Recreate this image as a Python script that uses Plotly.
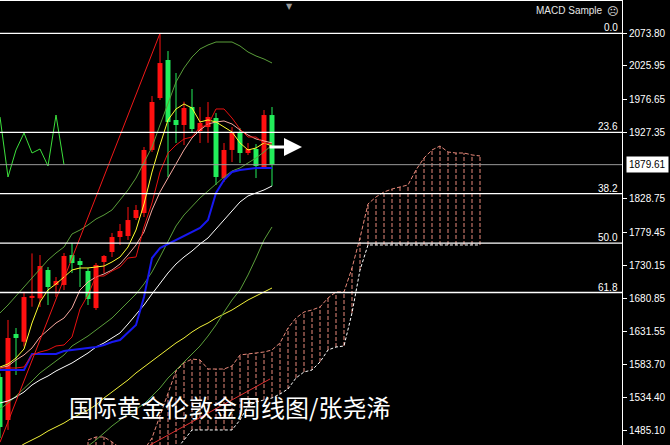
import plotly.graph_objects as go

# ---------------- data ----------------
bar_index = list(range(35))
open_ = [1564.7, 1501.0, 1628.5, 1617.0, 1682.0, 1681.4, 1723.4, 1701.2, 1701.2, 1745.6,
         1736.7, 1721.9, 1667.0, 1735.3, 1750.1, 1772.3, 1773.8, 1800.5, 1807.9, 1901.4,
         1978.4, 2034.8, 1945.8, 1938.4, 1965.1, 1929.5, 1935.4, 1948.8, 1859.8, 1901.4,
         1926.5, 1896.9, 1902.8, 1876.1, 1953.2]
high = [1570.0, 1649.3, 1637.4, 1691.0, 1748.0, 1745.6, 1727.8, 1713.0, 1748.6, 1763.4,
        1741.2, 1726.4, 1733.8, 1745.6, 1778.3, 1791.6, 1816.8, 1819.8, 1905.8, 1981.4,
        2074.4, 2048.1, 2015.5, 1973.0, 1991.8, 1965.1, 1972.5, 1956.2, 1911.7, 1935.4,
        1933.9, 1911.7, 1910.2, 1960.6, 1965.1]
low = [1474.3, 1486.2, 1567.7, 1610.0, 1669.0, 1668.5, 1671.5, 1683.3, 1693.7, 1718.9,
       1698.2, 1671.5, 1664.1, 1718.9, 1742.7, 1760.5, 1767.9, 1797.5, 1802.0, 1898.4,
       1975.5, 1861.3, 1911.7, 1908.7, 1926.5, 1911.7, 1912.0, 1849.4, 1853.9, 1883.5,
       1882.0, 1893.9, 1859.8, 1874.6, 1848.0]
close = [1490.6, 1622.6, 1622.6, 1683.3, 1685.0, 1729.3, 1698.2, 1707.0, 1744.2, 1733.8,
         1730.8, 1680.4, 1730.8, 1744.2, 1772.3, 1781.2, 1797.5, 1812.4, 1901.4, 1972.5,
         2030.3, 1942.9, 1938.4, 1963.6, 1932.5, 1941.4, 1950.3, 1861.3, 1901.4, 1926.5,
         1896.9, 1902.8, 1877.6, 1953.2, 1879.61]

tenkan = [1578.1, 1578.1, 1578.1, 1579.6, 1597.4, 1601.8, 1604.8, 1610.7, 1612.2, 1624.1,
          1665.6, 1686.3, 1714.5, 1714.5, 1721.9, 1727.9, 1741.2, 1742.7, 1787.2, 1822.8,
          1868.7, 1896.9, 1908.8, 1917.7, 1920.6, 1935.5, 1938.4, 1962.2, 1962.2, 1948.8,
          1932.5, 1920.6, 1920.6, 1911.8, 1910.3]
kijun = [1575.1, 1575.1, 1575.1, 1575.1, 1598.9, 1598.9, 1598.9, 1598.9, 1603.3, 1604.8,
         1606.2, 1607.8, 1609.2, 1612.2, 1616.6, 1619.6, 1631.5, 1641.9, 1683.4, 1741.2,
         1756.0, 1762.0, 1767.9, 1773.8, 1779.8, 1785.7, 1797.6, 1837.6, 1856.9, 1868.7,
         1871.7, 1873.2, 1874.7, 1874.7, 1874.7]
ma_yellow_fast = [1579.6, 1584.0, 1592.9, 1606.3, 1644.8, 1676.0, 1693.8, 1702.7, 1713.0, 1723.4,
                  1726.4, 1726.4, 1727.9, 1729.3, 1735.3, 1742.7, 1757.5, 1782.7, 1821.3, 1868.7,
                  1908.8, 1945.9, 1962.2, 1969.6, 1963.6, 1942.9, 1945.9, 1942.9, 1935.5, 1928.1,
                  1911.8, 1901.4, 1904.3, 1911.8, 1907.3]
ma_pink = [1578.1, 1581.1, 1590.0, 1597.4, 1607.8, 1624.1, 1634.4, 1644.8, 1652.2, 1667.1,
           1693.8, 1705.6, 1713.0, 1717.5, 1723.4, 1732.3, 1745.7, 1760.5, 1779.8, 1812.4,
           1839.1, 1859.8, 1879.1, 1901.4, 1919.2, 1931.0, 1939.9, 1942.9, 1944.4, 1939.9,
           1931.0, 1923.6, 1917.7, 1914.7, 1911.8]
ma_white = [1526.2, 1529.2, 1535.1, 1542.5, 1552.9, 1560.3, 1566.2, 1573.6, 1579.6, 1585.5,
            1592.9, 1600.3, 1609.2, 1615.2, 1622.6, 1630.0, 1643.3, 1656.7, 1671.5, 1687.8,
            1704.1, 1719.0, 1732.3, 1742.7, 1751.6, 1762.0, 1770.9, 1784.2, 1799.0, 1812.4,
            1824.3, 1833.2, 1837.6, 1842.1, 1848.0]
bb_upper = [1659.7, 1671.5, 1684.9, 1698.2, 1711.6, 1726.4, 1738.2, 1748.6, 1757.5, 1776.8,
            1782.7, 1790.2, 1799.0, 1805.0, 1812.4, 1827.2, 1842.1, 1859.8, 1882.1, 1905.8,
            1938.4, 1971.1, 2002.2, 2023.0, 2039.3, 2051.1, 2057.1, 2061.5, 2061.5, 2061.5,
            2055.6, 2046.7, 2040.8, 2036.3, 2030.4]
bb_middle = [1517.3, 1526.2, 1536.6, 1547.0, 1558.8, 1570.7, 1579.6, 1588.5, 1597.4, 1610.7,
             1618.1, 1625.5, 1634.4, 1643.3, 1652.2, 1664.1, 1676.0, 1687.8, 1702.7, 1720.5,
             1742.7, 1766.4, 1788.7, 1805.0, 1818.3, 1830.2, 1840.6, 1851.0, 1861.3, 1870.2,
             1874.7, 1882.1, 1889.5, 1898.4, 1908.8]
bb_lower = [1374.9, 1382.4, 1389.8, 1397.2, 1406.1, 1415.0, 1422.4, 1429.8, 1437.2, 1444.6,
            1453.5, 1462.4, 1471.3, 1481.7, 1492.1, 1501.0, 1509.9, 1517.3, 1524.7, 1536.6,
            1548.4, 1563.3, 1575.1, 1587.0, 1598.9, 1610.7, 1625.5, 1641.9, 1661.1, 1678.9,
            1693.8, 1716.0, 1741.2, 1767.9, 1787.2]
ma_yellow_slow = [1444.6, 1452.0, 1458.0, 1465.4, 1471.3, 1477.3, 1484.7, 1490.6, 1496.5, 1503.9,
                  1509.9, 1515.8, 1523.2, 1533.6, 1542.5, 1551.4, 1560.3, 1570.7, 1579.6, 1588.5,
                  1597.4, 1606.3, 1615.2, 1622.6, 1631.5, 1638.9, 1644.8, 1652.2, 1658.2, 1664.1,
                  1671.5, 1678.9, 1684.9, 1690.8, 1696.7]

cloud_index = list(range(11, 61))
span_a = [1471.3, 1475.8, 1475.8, 1468.4, 1459.5, 1453.5, 1453.5, 1456.5, 1474.3, 1508.4,
          1542.5, 1573.6, 1585.5, 1591.4, 1590.0, 1576.6, 1576.6, 1576.6, 1581.1, 1597.4,
          1598.9, 1600.3, 1601.8, 1604.8, 1615.2, 1637.4, 1652.2, 1661.1, 1664.1, 1668.6,
          1681.9, 1690.8, 1690.8, 1726.4, 1770.9, 1821.3, 1831.7, 1839.1, 1843.5, 1846.5,
          1849.5, 1871.7, 1889.5, 1901.4, 1907.3, 1898.4, 1896.9, 1896.9, 1894.0, 1892.5]
span_b = [1426.8, 1426.8, 1426.8, 1426.8, 1426.8, 1426.8, 1426.8, 1426.8, 1426.8, 1426.8,
          1426.8, 1456.5, 1471.3, 1486.2, 1486.2, 1486.2, 1486.2, 1486.2, 1486.2, 1501.0,
          1521.7, 1527.7, 1530.6, 1533.6, 1539.5, 1547.0, 1563.3, 1572.2, 1575.1, 1587.0,
          1604.8, 1609.2, 1610.7, 1659.7, 1723.4, 1760.5, 1760.5, 1760.5, 1760.5, 1760.5,
          1760.5, 1760.5, 1760.5, 1760.5, 1760.5, 1760.5, 1760.5, 1760.5, 1760.5, 1760.5]

trend_x = [0, 20]
trend_y = [1468.0, 2074.4]
channel_x = [18.75, 33.75]
channel_y = [1463.9, 1561.8]

chikou_shift = 26
fib_high = 2074.4
fib_low = 1452.4
fib_levels = [0.0, 23.6, 38.2, 50.0, 61.8, 100.0]
fib_labels = ["0.0", "23.6", "38.2", "50.0", "61.8", "100.0"]
last_price = 1879.61
y_ticks = [2073.80, 2025.95, 1976.65, 1927.35, 1828.75, 1779.45, 1730.15,
           1680.85, 1631.55, 1583.70, 1534.40, 1485.10]
arrow_price = 1905.8
arrow_from, arrow_to = 33.5, 37.75
title_x, title_price = 8.4, 1521.5
title_text = "国际黄金伦敦金周线图/张尧浠"
indicator_name = "MACD Sample"

# ---------------- styles ----------------
RED = "#FF1010"
GREEN = "#22EE5A"
OLIVE = "#5A9E3A"
CLOUD = "#E8897A"
FONT = "Liberation Sans, Arial, sans-serif"

fig = go.Figure()

# Ichimoku cloud hatching
hx, hy = [], []
for i, a, b in zip(cloud_index, span_a, span_b):
    hx += [i, i, None]
    hy += [b, a, None]
fig.add_trace(go.Scatter(x=hx, y=hy, mode="lines",
                         line=dict(color=CLOUD, width=1, dash="4px,2px"), hoverinfo="skip"))
fig.add_trace(go.Scatter(x=cloud_index, y=span_a, mode="lines",
                         line=dict(color=CLOUD, width=1, dash="4px,2px"), hoverinfo="skip"))
fig.add_trace(go.Scatter(x=cloud_index, y=span_b, mode="lines",
                         line=dict(color="white", width=1, dash="3px,2px"), hoverinfo="skip"))

# candles
up = [i for i in bar_index if close[i] >= open_[i]]
dn = [i for i in bar_index if close[i] < open_[i]]
for idxs, col in ((up, RED), (dn, GREEN)):
    fig.add_trace(go.Bar(
        x=idxs,
        y=[max(abs(close[i] - open_[i]), 1.6) for i in idxs],
        base=[min(close[i], open_[i]) for i in idxs],
        width=0.62, marker=dict(color=col, line=dict(width=0)), hoverinfo="skip"))
    wx, wy = [], []
    for i in idxs:
        wx += [i, i, None]
        wy += [low[i], high[i], None]
    fig.add_trace(go.Scatter(x=wx, y=wy, mode="lines",
                             line=dict(color=col, width=1), hoverinfo="skip"))

def line(y, color, width=1, x=None):
    fig.add_trace(go.Scatter(x=bar_index if x is None else x, y=y, mode="lines",
                             line=dict(color=color, width=width), hoverinfo="skip"))

line(ma_yellow_slow, "#F2F23A")
line(bb_lower, OLIVE)
line(bb_middle, OLIVE)
line(bb_upper, OLIVE)
line(ma_white, "white")
line(ma_pink, "#F7A9A0")
line(ma_yellow_fast, "#FFFF30")
line(kijun, "#1818F0", 2)
line(tenkan, "#E81010")
line(trend_y, "#F01818", 1, trend_x)
line(channel_y, "#E03030", 1, channel_x)
# Chikou span: closes shifted back
line(close[chikou_shift:], "#3CE03C", 1, bar_index[:len(bar_index) - chikou_shift])

shapes = []
annotations = []
fib_range = fib_high - fib_low
for lvl, lab in zip(fib_levels, fib_labels):
    yv = fib_high - fib_range * lvl / 100.0
    shapes.append(dict(type="line", xref="paper", x0=0, x1=1, yref="y", y0=yv, y1=yv,
                       line=dict(color="white", width=1.3)))
    annotations.append(dict(xref="paper", x=1, xshift=-3, xanchor="right", yref="y", y=yv,
                            yanchor="bottom", yshift=-1, borderpad=0, text=lab, showarrow=False,
                            font=dict(family=FONT, size=10, color="white")))
shapes.append(dict(type="line", xref="paper", x0=0, x1=1, yref="y", y0=last_price, y1=last_price,
                   line=dict(color="#9A9A9A", width=1)))

annotations.append(dict(xref="paper", x=1, xanchor="left", xshift=4, yref="y", y=last_price,
                        text="%.2f" % last_price, showarrow=False, bgcolor="white",
                        borderpad=2, font=dict(family=FONT, size=10, color="black")))
annotations.append(dict(xref="paper", x=0.971, xanchor="right", yref="paper", y=1.0,
                        yanchor="top", yshift=-3, borderpad=0, text=indicator_name,
                        showarrow=False, font=dict(family=FONT, size=10, color="#E6E6E6")))
annotations.append(dict(xref="paper", x=0.984, xanchor="center", yref="paper", y=1.0,
                        yanchor="top", yshift=-3, borderpad=0, text="☹", showarrow=False,
                        font=dict(family="DejaVu Sans", size=11, color="#E6E6E6")))
annotations.append(dict(xref="paper", x=0.466, xanchor="center", yref="paper", y=1.0,
                        yanchor="top", yshift=1, text="▼", showarrow=False,
                        font=dict(family="DejaVu Sans", size=8, color="#9A9A9A")))
annotations.append(dict(xref="x", x=arrow_to, yref="y", y=arrow_price,
                        axref="x", ax=arrow_from, ayref="y", ay=arrow_price,
                        text="", showarrow=True, arrowhead=2, arrowsize=1.2,
                        arrowwidth=3, arrowcolor="white"))
annotations.append(dict(xref="x", x=title_x, xanchor="left", yref="y", y=title_price,
                        text=title_text, showarrow=False,
                        font=dict(family="Noto Sans CJK SC", size=24, color="white")))

fig.update_layout(
    width=670, height=445,
    margin=dict(l=0, r=48, t=1, b=0),
    paper_bgcolor="black", plot_bgcolor="black",
    showlegend=False, barmode="overlay",
    shapes=shapes, annotations=annotations,
    xaxis=dict(range=[0, 77.75], showgrid=False, zeroline=False, showticklabels=False,
               ticks="", showline=True, linecolor="white", linewidth=1, side="top"),
    yaxis=dict(range=[1463.9, 2122.3], side="right", showgrid=False, zeroline=False,
               tickvals=y_ticks, ticktext=["%.2f" % v for v in y_ticks],
               ticks="outside", ticklen=4, tickcolor="white",
               showline=True, linecolor="white", linewidth=1,
               tickfont=dict(family=FONT, size=10, color="white")),
)

fig.write_html("out.html", config={"displayModeBar": False},
               post_script="document.body.style.margin='0';document.body.style.background='black';")
